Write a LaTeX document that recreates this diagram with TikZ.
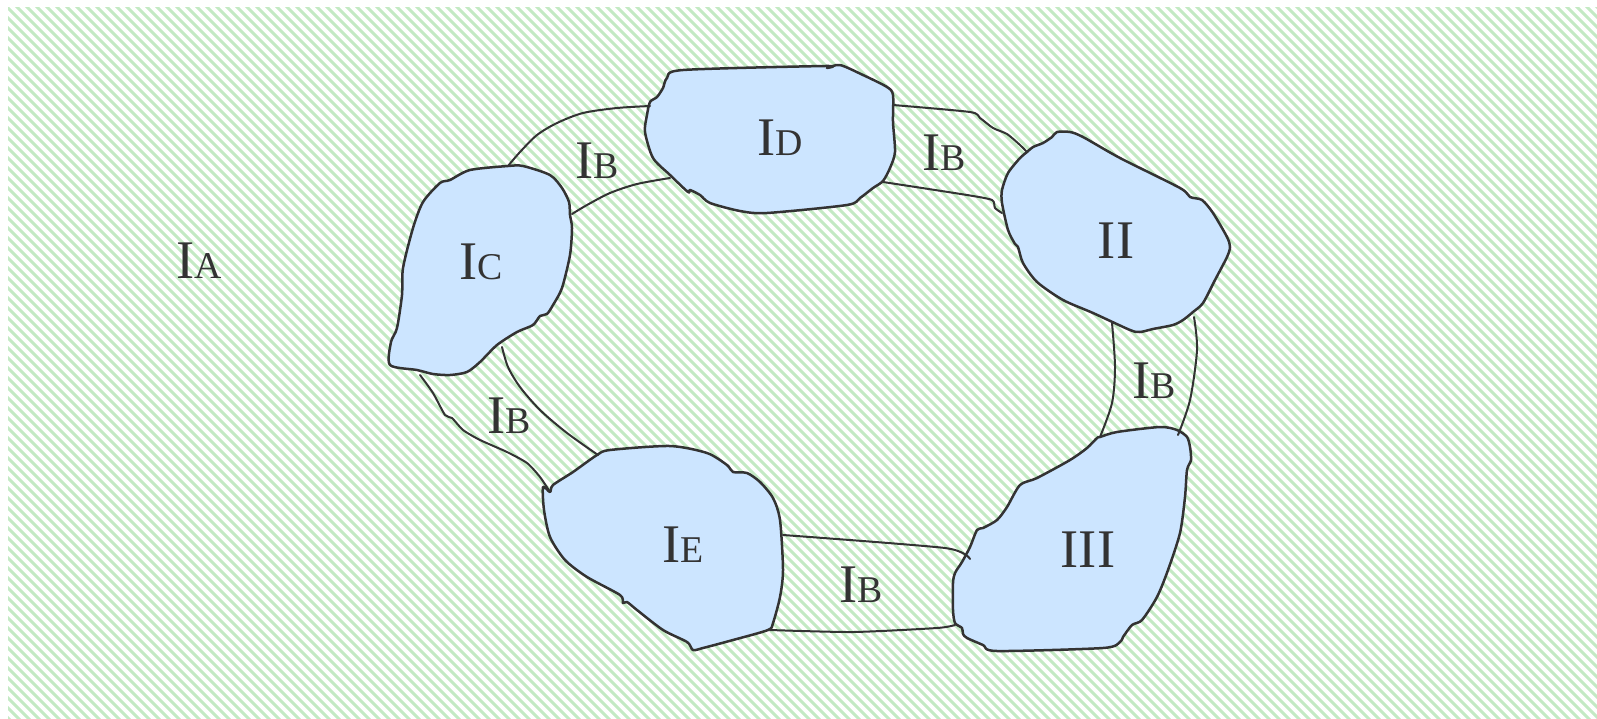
\documentclass[tikz,border=0pt]{standalone}
\usepackage{fontspec}
\setmainfont{Liberation Serif}
\definecolor{ink}{RGB}{51,51,51}
\definecolor{cellfill}{RGB}{204,229,255}
\definecolor{hatchgreen}{RGB}{196,234,196}
\newcommand{\Ilab}[1]{I{\fontsize{37.8}{40}\selectfont #1}}
\begin{document}
\begin{tikzpicture}[x=1pt,y=-1pt,
  cell/.style={draw=ink,fill=cellfill,line width=2.5pt,line join=round},
  seam/.style={draw=ink,line width=2pt,line cap=round,line join=round},
  lbl/.style={text=ink,inner sep=0pt,anchor=base,font=\fontsize{54.4}{60}\selectfont}]
\useasboundingbox (0,0) rectangle (1597,718);
% hatched ground
\begin{scope}
  \clip (8,7) rectangle (1597,718);
  \foreach \k in {-720,-710,...,1600}
    \draw[hatchgreen,line width=3pt] (\k,0) -- ++(730,730);
\end{scope}
% regions
\path[cell] plot[smooth cycle,tension=0.45] coordinates {(450,180) (470,170) (508,166) (523,166) (550,175) (562,188) (569,202) (570,215) (572,228) (570,255) (562,288) (553,305) (547,314) (540,316) (533,325) (517,332) (497,345) (480,362) (467,372) (450,375) (433,374) (417,370) (390,365) (391,342) (397,328) (402,295) (403,268) (413,228) (423,202) (440,183)};
\path[cell] plot[smooth cycle,tension=0.45] coordinates {(667,78) (683,70) (825,66) (827,68) (840,65) (863,75) (887,87) (893,95) (893,122) (895,152) (890,168) (883,181) (873,188) (860,198) (847,205) (767,213) (740,211) (710,203) (700,195) (690,190) (688,192) (670,175) (653,158) (645,132) (647,115) (650,102) (657,97) (663,88)};
\path[cell] plot[smooth cycle,tension=0.45] coordinates {(1057,132) (1070,132) (1083,137) (1120,158) (1180,188) (1190,197) (1202,200) (1213,213) (1227,237) (1230,247) (1227,257) (1215,280) (1203,303) (1193,312) (1183,320) (1173,325) (1153,329) (1140,332) (1130,330) (1093,313) (1063,300) (1037,282) (1023,263) (1018,247) (1015,244) (1008,230) (1002,203) (1002,190) (1008,173) (1020,158) (1027,152) (1033,147) (1043,143) (1052,137)};
\path[cell] plot[smooth cycle,tension=0.45] coordinates {(1100,437) (1117,432) (1160,427) (1177,430) (1187,437) (1190,447) (1191,460) (1187,470) (1185,497) (1180,533) (1168,570) (1157,597) (1142,620) (1132,625) (1123,637) (1120,642) (1103,648) (997,651) (983,645) (967,638) (963,634) (962,628) (955,623) (953,610) (953,583) (955,573) (962,562) (970,547) (977,530) (983,528) (997,520) (1007,507) (1020,485) (1037,478) (1070,460) (1087,448) (1097,438)};
\path[cell] plot[smooth cycle,tension=0.45] coordinates {(610,450) (670,446) (707,453) (727,465) (733,472) (747,473) (760,482) (773,498) (780,520) (783,570) (780,597) (773,623) (768,630) (733,640) (703,648) (693,650) (687,642) (663,630) (637,610) (627,602) (623,603) (620,595) (587,577) (565,560) (550,537) (544,510) (543,487) (550,492) (553,485) (573,472) (597,455)};
% seams between neighbouring regions
\draw[seam] plot[smooth,tension=0.5] coordinates {(508,166) (520,152) (537,135) (557,123) (583,113) (617,108) (650,106)};
\draw[seam] plot[smooth,tension=0.5] coordinates {(572,214) (587,205) (610,193) (637,184) (670,178)};
\draw[seam] plot[smooth,tension=0.4] coordinates {(893,105) (970,112) (980,118) (993,128) (1007,134) (1020,145) (1027,152)};
\draw[seam] plot[smooth,tension=0.4] coordinates {(883,182) (967,195) (992,200) (995,208) (1002,213)};
\draw[seam] plot[smooth,tension=0.5] coordinates {(1112,323) (1115,367) (1112,403) (1100,437)};
\draw[seam] plot[smooth,tension=0.5] coordinates {(1194,317) (1197,350) (1190,400) (1178,435)};
\draw[seam] plot[smooth,tension=0.4] coordinates {(783,535) (945,548) (970,559)};
\draw[seam] plot[smooth,tension=0.4] coordinates {(770,630) (853,632) (937,628) (955,625)};
\draw[seam] plot[smooth,tension=0.4] coordinates {(420,375) (433,393) (445,415) (452,418) (463,430) (480,440) (507,452) (527,463) (540,477) (550,492)};
\draw[seam] plot[smooth,tension=0.5] coordinates {(502,347) (508,367) (520,387) (540,410) (567,433) (598,455)};
% region names
\node[lbl] (ia) at (199,278) {\Ilab{A}};
\node[lbl] (ic) at (481,279) {\Ilab{C}};
\node[lbl] (id) at (780,155) {\Ilab{D}};
\node[lbl] (ie) at (683,562) {\Ilab{E}};
\node[lbl] (rii) at (1116,258) {II};
\node[lbl] (riii) at (1088,567) {III};
\node[lbl] (ib1) at (597,178) {\Ilab{B}};
\node[lbl] (ib2) at (944,170) {\Ilab{B}};
\node[lbl] (ib3) at (1154,398) {\Ilab{B}};
\node[lbl] (ib4) at (861,602) {\Ilab{B}};
\node[lbl] (ib5) at (509,433) {\Ilab{B}};
\end{tikzpicture}
\end{document}
